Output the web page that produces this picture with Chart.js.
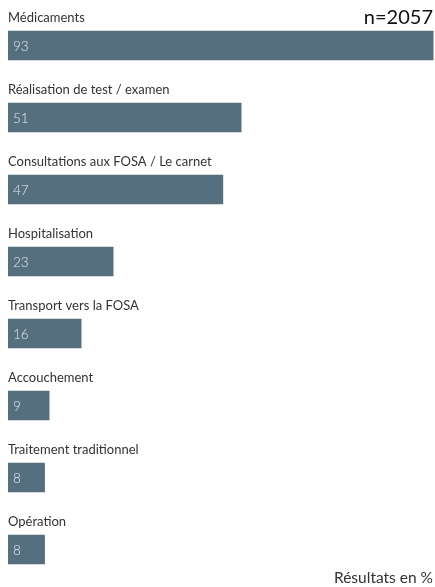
<!DOCTYPE html>
<html>
<head>
<meta charset="utf-8">
<script src="https://cdn.jsdelivr.net/npm/chart.js@4/dist/chart.umd.min.js"></script>
<style>
  html, body { margin: 0; padding: 0; background: #fff; }
  #wrap { width: 435px; height: 587px; position: relative; }
</style>
</head>
<body>
<div id="wrap"><canvas id="chart"></canvas></div>
<script>
const categories = [
  "Médicaments",
  "Réalisation de test / examen",
  "Consultations aux FOSA / Le carnet",
  "Hospitalisation",
  "Transport vers la FOSA",
  "Accouchement",
  "Traitement traditionnel",
  "Opération"
];
const values = [93, 51, 47, 23, 16, 9, 8, 8];
const sampleLabel = "n=2057";
const unitLabel = "Résultats en %";

const barColor = "#566f7e";
const textColor = "#333333";
const fontFamily = "Lato, 'Open Sans', sans-serif";

// category names above each bar, values inside the bar
const labelsPlugin = {
  id: "labels",
  afterDatasetsDraw(chart) {
    const ctx = chart.ctx;
    const meta = chart.getDatasetMeta(0);
    ctx.save();
    meta.data.forEach((bar, i) => {
      const top = bar.y - bar.height / 2;
      ctx.font = "13px " + fontFamily;
      ctx.fillStyle = textColor;
      ctx.textAlign = "left";
      ctx.textBaseline = "alphabetic";
      ctx.fillText(categories[i], chart.chartArea.left, top - 9);

      ctx.font = "300 13.5px " + fontFamily;
      ctx.fillStyle = "#e4eaee";
      ctx.textBaseline = "middle";
      ctx.fillText(String(values[i]), bar.base + 5, bar.y + 1);
    });

    ctx.textAlign = "right";
    ctx.textBaseline = "alphabetic";
    ctx.fillStyle = "#111";
    ctx.font = "20px " + fontFamily;
    ctx.fillText(sampleLabel, chart.width - 2, 24);

    ctx.fillStyle = textColor;
    ctx.font = "15.5px " + fontFamily;
    ctx.fillText(unitLabel, chart.width - 2, 583);
    ctx.restore();
  }
};

new Chart(document.getElementById("chart"), {
  type: "bar",
  data: {
    labels: categories,
    datasets: [
      {
        data: values,
        backgroundColor: barColor,
        borderWidth: 0,
        barThickness: 29
      }
    ]
  },
  options: {
    indexAxis: "y",
    responsive: true,
    maintainAspectRatio: false,
    animation: false,
    layout: { padding: { left: 8, right: 0, top: 9.5, bottom: 1.5 } },
    plugins: {
      legend: { display: false },
      tooltip: { enabled: false }
    },
    scales: {
      x: { display: false, min: 0, max: 93.4 },
      y: { display: false }
    }
  },
  plugins: [labelsPlugin]
});
</script>
</body>
</html>
